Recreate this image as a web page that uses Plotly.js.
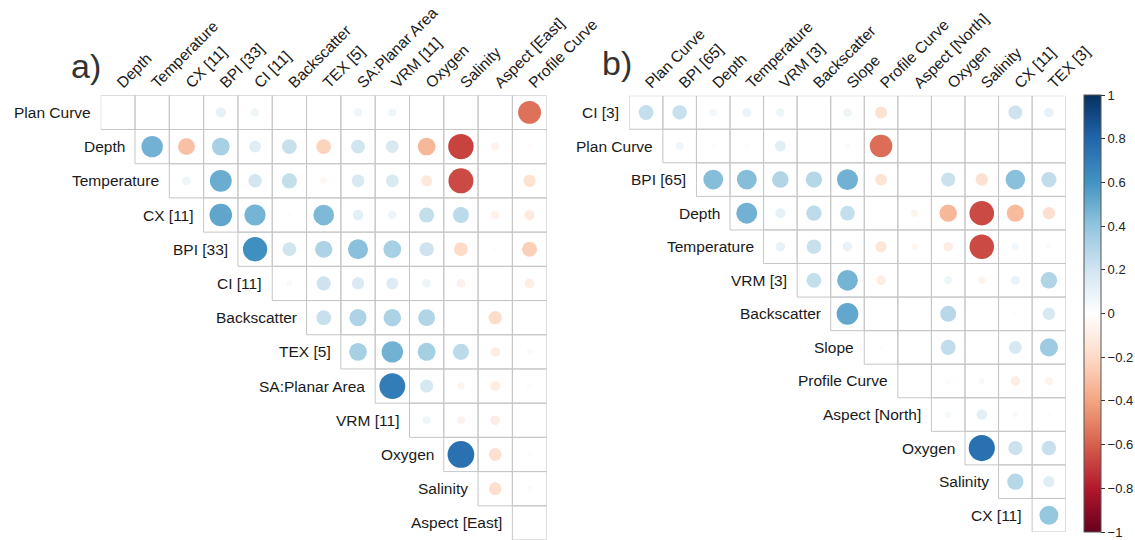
<!DOCTYPE html>
<html>
<head>
<meta charset="utf-8">
<script src="https://cdn.plot.ly/plotly-3.0.1.min.js"></script>
<style>html,body{margin:0;padding:0;background:#fff;}#chart{width:1135px;height:540px;}</style>
</head>
<body>
<div id="chart"></div>
<script>
// ---- Panel a) variables (rows use vars[0..12], columns use vars[1..13]) ----
const varsA = ['Plan Curve','Depth','Temperature','CX [11]','BPI [33]','CI [11]','Backscatter','TEX [5]','SA:Planar Area','VRM [11]','Oxygen','Salinity','Aspect [East]','Profile Curve'];
// row i holds correlations for columns i..12
const corrA = [
  [0.01, 0.01, 0.01, 0.11, 0.07, 0, 0.01, 0.07, 0.07, 0, 0.005, 0, -0.55],
  [0.48, -0.3, 0.33, 0.14, 0.23, -0.23, 0.2, 0.17, -0.33, -0.68, -0.07, -0.03],
  [0.08, 0.5, 0.19, 0.24, -0.05, 0.17, 0.17, -0.13, -0.66, -0.02, -0.16],
  [0.53, 0.47, -0.02, 0.45, 0.12, 0.08, 0.24, 0.27, -0.07, -0.11],
  [0.62, 0.2, 0.31, 0.42, 0.33, 0.21, -0.2, -0.02, -0.24],
  [0.04, 0.21, 0.16, 0.15, 0.08, -0.08, 0, -0.1],
  [0.23, 0.31, 0.32, 0.3, 0, -0.19, -0.01],
  [0.33, 0.48, 0.34, 0.27, -0.1, -0.04],
  [0.7, 0.18, -0.06, -0.1, 0.03],
  [0.07, -0.07, -0.1, 0],
  [0.75, -0.17, -0.02],
  [-0.17, 0.03],
  [0]
];

// ---- Panel b) variables ----
const varsB = ['CI [3]','Plan Curve','BPI [65]','Depth','Temperature','VRM [3]','Backscatter','Slope','Profile Curve','Aspect [North]','Oxygen','Salinity','CX [11]','TEX [3]'];
const corrB = [
  [0.24, 0.23, 0.06, 0.09, 0.08, 0, 0.08, -0.16, 0, 0.01, 0.01, 0.21, 0.1],
  [0.07, 0.02, 0.02, 0.13, 0, 0.03, -0.56, 0, 0, 0.01, 0.01, 0.01],
  [0.43, 0.43, 0.3, 0.29, 0.48, -0.15, 0, 0.22, -0.17, 0.42, 0.25],
  [0.48, 0.11, 0.26, 0.24, -0.01, -0.06, -0.33, -0.66, -0.32, -0.17],
  [0.1, 0.23, 0.1, -0.14, -0.05, -0.1, -0.66, 0.06, 0.03],
  [0.24, 0.47, -0.1, 0, 0.07, -0.06, 0.09, 0.3],
  [0.52, 0.01, 0.01, 0.28, 0, -0.02, 0.17],
  [0.02, 0, 0.25, 0.01, 0.18, 0.36],
  [0, -0.03, 0.04, -0.1, -0.07],
  [0.05, 0.12, 0.04, 0.02],
  [0.75, 0.22, 0.23],
  [0.29, 0.14],
  [0.39]
];

const colorbarTicks = [-1, -0.8, -0.6, -0.4, -0.2, 0, 0.2, 0.4, 0.6, 0.8, 1];

const FONT = 'Liberation Sans, Arial, Helvetica, sans-serif';
const LABEL_SIZE = 15.5;
const W = 1135, H = 540;
const rdbu = [
  [0.0,'#67001F'],[0.1,'#B2182B'],[0.2,'#D6604D'],[0.3,'#F4A582'],[0.4,'#FDDBC7'],
  [0.5,'#FFFFFF'],[0.6,'#D1E5F0'],[0.7,'#92C5DE'],[0.8,'#4393C3'],[0.9,'#2166AC'],[1.0,'#053061']
];

// pixel boxes of each grid
const boxA = {x0:100.7, x1:546.7, y0:95.3, y1:540};
const boxB = {x0:629.3, x1:1065.7, y0:95.7, y1:532};

function buildPanel(vars, corr, box, xa, ya, showScale) {
  const n = corr.length;
  const cell = (box.x1 - box.x0) / n;
  const maxD = 0.9 * cell;
  const xs = [], ys = [], sz = [], cl = [], tx = [];
  const shapes = [];
  for (let i = 0; i < n; i++) {
    for (let k = 0; k < corr[i].length; k++) {
      const j = i + k;
      const r = corr[i][k];
      xs.push(j); ys.push(i);
      sz.push(maxD * Math.sqrt(Math.abs(r)));
      cl.push(r);
      tx.push(vars[i] + ' / ' + vars[j+1] + ': ' + r);
      shapes.push({type:'rect', xref:xa, yref:ya, x0:j-0.5, x1:j+0.5, y0:i-0.5, y1:i+0.5,
        line:{color:'#c6c6c6', width:1}, fillcolor:'rgba(0,0,0,0)', layer:'below'});
    }
  }
  const trace = {
    type:'scatter', mode:'markers', x:xs, y:ys, text:tx, hoverinfo:'text',
    xaxis:xa, yaxis:ya,
    marker:{size:sz, sizemode:'diameter', color:cl, cmin:-1, cmax:1, colorscale:rdbu,
      line:{width:0}, opacity:1, showscale:showScale,
      colorbar: showScale ? {
        x:1084/W, xanchor:'left', xpad:0, ypad:0,
        y:1-313.5/H, yanchor:'middle',
        thickness:17, thicknessmode:'pixels', len:437, lenmode:'pixels',
        tickmode:'array', tickvals:colorbarTicks,
        ticks:'outside', ticklen:4, tickwidth:1, tickcolor:'#333',
        tickfont:{family:FONT, size:13, color:'#222'},
        outlinewidth:1, outlinecolor:'#555'
      } : undefined}
  };
  const annotations = [];
  for (let i = 0; i < n; i++) {
    annotations.push({xref:xa, yref:ya, x:i-0.5, y:i, text:vars[i], showarrow:false,
      xanchor:'right', yanchor:'middle', xshift:-8, font:{family:FONT, size:LABEL_SIZE, color:'#1a1a1a'}});
  }
  const xaxis = {
    domain:[box.x0/W, box.x1/W], range:[-0.5, n-0.5], side:'top', anchor:ya,
    tickmode:'array', tickvals:vars.slice(1).map((v,i)=>i), ticktext:vars.slice(1),
    tickangle:-45, ticks:'', showgrid:false, zeroline:false, showline:false, fixedrange:true,
    tickfont:{family:FONT, size:LABEL_SIZE, color:'#1a1a1a'}
  };
  const yaxis = {
    domain:[1-box.y1/H, 1-box.y0/H], range:[n-0.5, -0.5], anchor:xa,
    showticklabels:false, ticks:'', showgrid:false, zeroline:false, showline:false, fixedrange:true
  };
  return {trace, shapes, annotations, xaxis, yaxis};
}

const A = buildPanel(varsA, corrA, boxA, 'x', 'y', true);
const B = buildPanel(varsB, corrB, boxB, 'x2', 'y2', false);

const layout = {
  width:W, height:H, margin:{l:0, r:0, t:0, b:0},
  paper_bgcolor:'#fff', plot_bgcolor:'rgba(0,0,0,0)',
  showlegend:false, hovermode:'closest',
  font:{family:FONT, color:'#1a1a1a'},
  xaxis:A.xaxis, yaxis:A.yaxis, xaxis2:B.xaxis, yaxis2:B.yaxis,
  shapes:A.shapes.concat(B.shapes),
  annotations:A.annotations.concat(B.annotations).concat([
    {xref:'paper', yref:'paper', x:86/W, y:1-66/H, text:'a)', showarrow:false,
     xanchor:'center', yanchor:'middle', font:{family:FONT, size:34, color:'#333'}},
    {xref:'paper', yref:'paper', x:617/W, y:1-63/H, text:'b)', showarrow:false,
     xanchor:'center', yanchor:'middle', font:{family:FONT, size:34, color:'#333'}}
  ])
};

Plotly.newPlot('chart', [A.trace, B.trace], layout, {displayModeBar:false});
</script>
</body>
</html>
